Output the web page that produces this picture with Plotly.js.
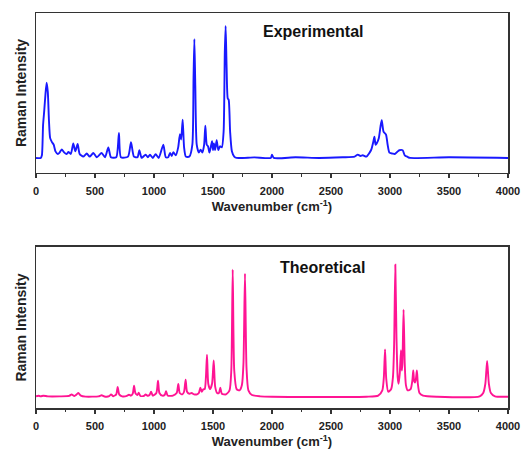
<!DOCTYPE html>
<html>
<head>
<meta charset="utf-8">
<script src="https://cdn.plot.ly/plotly-3.0.1.min.js"></script>
<style>html,body{margin:0;padding:0;background:#fff;}#chart{width:522px;height:449px;}</style>
</head>
<body>
<div id="chart"></div>
<script>
// Experimental Raman spectrum (wavenumber, intensity)
const expWavenumber = [0,40,50,60,70,80,90,100,110,120,135,150,165,185,200,218,240,260,275,295,316,333,353,370,400,430,455,486,515,556,585,613,635,680,703,720,780,805,830,860,876,895,929,948,966,990,1014,1040,1079,1100,1120,1136,1150,1164,1185,1205,1220,1230,1243,1255,1270,1300,1325,1335,1342,1350,1362,1380,1395,1410,1425,1435,1447,1458,1470,1485,1492,1500,1508,1518,1531,1545,1559,1575,1590,1600,1607,1615,1625,1633,1645,1660,1680,1700,1850,1990,2000,2015,2200,2400,2600,2700,2727,2750,2769,2800,2840,2858,2868,2878,2887,2905,2920,2930,2945,2966,2980,2995,3022,3040,3060,3079,3107,3125,3149,3170,3500,4000];
const expIntensity = [0,0,0.02,0.25,0.36,0.48,0.57,0.50,0.28,0.15,0.12,0.10,0.05,0.03,0.04,0.065,0.04,0.03,0.045,0.03,0.11,0.05,0.105,0.03,0.01,0.033,0.01,0.038,0.005,0.038,0.005,0.08,0.005,0.005,0.19,0.005,0.01,0.12,0.01,0.005,0.058,0,0.025,0.005,0.025,0,0.028,0,0.10,0.005,0.005,0.038,0.015,0.043,0.02,0.08,0.18,0.14,0.29,0.08,0.01,0.01,0.1,0.6,0.90,0.55,0.1,0.04,0.063,0.04,0.10,0.245,0.10,0.088,0.04,0.10,0.126,0.06,0.11,0.06,0.134,0.06,0.088,0.08,0.2,0.8,1.0,0.7,0.45,0.44,0.2,0.05,0.01,0,0.004,0,0.025,0,0.005,0,0.005,0.01,0.025,0.015,0.02,0.01,0.06,0.12,0.16,0.10,0.11,0.15,0.24,0.285,0.2,0.177,0.1,0.04,0.033,0.03,0.045,0.058,0.058,0.02,0.008,0,0.005,0];

// Theoretical Raman spectrum (wavenumber, intensity)
const theoWavenumber = [0,20,40,62,100,200,280,302,325,345,359,380,420,530,556,580,620,636,655,680,692,705,730,770,788,805,820,831,842,860,870,885,915,929,945,962,975,990,1020,1034,1046,1070,1090,1102,1115,1160,1192,1206,1218,1240,1255,1268,1280,1300,1319,1340,1365,1380,1393,1405,1418,1430,1440,1449,1460,1475,1492,1506,1518,1535,1550,1562,1575,1610,1640,1655,1667,1680,1700,1725,1745,1758,1771,1784,1800,1830,1900,2000,2800,2900,2935,2948,2958,2968,2985,3010,3025,3035,3045,3055,3065,3073,3083,3093,3100,3105,3115,3125,3135,3150,3175,3190,3197,3205,3212,3220,3228,3236,3250,3280,3400,3760,3790,3808,3823,3838,3855,3890,4000];
const theoIntensity = [0.005,0.01,0.005,0.01,0.005,0.005,0.008,0.02,0.008,0.02,0.03,0.01,0.003,0.005,0.013,0.004,0.006,0.02,0.006,0.02,0.076,0.02,0.005,0.008,0.018,0.01,0.025,0.086,0.03,0.015,0.033,0.008,0.008,0.02,0.01,0.015,0.04,0.01,0.03,0.123,0.03,0.01,0.015,0.043,0.012,0.01,0.03,0.098,0.03,0.02,0.04,0.131,0.04,0.025,0.03,0.02,0.02,0.03,0.07,0.04,0.058,0.06,0.15,0.32,0.1,0.06,0.1,0.277,0.08,0.03,0.03,0.07,0.025,0.02,0.05,0.2,0.962,0.2,0.06,0.05,0.09,0.25,0.932,0.22,0.05,0.015,0.005,0.002,0.002,0.01,0.05,0.15,0.36,0.14,0.04,0.06,0.15,0.4,1.0,0.45,0.15,0.1,0.18,0.353,0.2,0.25,0.66,0.25,0.09,0.05,0.06,0.13,0.2,0.12,0.11,0.14,0.2,0.1,0.03,0.01,0.002,0.005,0.03,0.1,0.272,0.1,0.03,0.005,0.002];

const tickValues = [0,500,1000,1500,2000,2500,3000,3500,4000];
const tickLabels = ["0","500","1000","1500","2000","2500","3000","3500","4000"];
const panelLabels = ["Experimental","Theoretical"];
const yTitle = "Raman Intensity";
const xTitle = "Wavenumber (cm<sup>-1</sup>)";

const fontFam = "Liberation Sans, Arial, sans-serif";

const traces = [
  {x: expWavenumber, y: expIntensity, type: 'scatter', mode: 'lines',
   line: {color: 'rgb(25,25,255)', width: 1.9, shape: 'spline', smoothing: 0.6},
   xaxis: 'x', yaxis: 'y', hoverinfo: 'skip'},
  {x: theoWavenumber, y: theoIntensity, type: 'scatter', mode: 'lines',
   line: {color: 'rgb(255,20,147)', width: 1.9, shape: 'spline', smoothing: 0.6},
   xaxis: 'x2', yaxis: 'y2', hoverinfo: 'skip'}
];

function xAxis(domainAnchor) {
  return {
    anchor: domainAnchor,
    range: [0, 4000],
    tickvals: tickValues, ticktext: tickLabels,
    ticks: 'outside', ticklen: 4, tickwidth: 1.2, tickcolor: '#333',
    ticklabelstandoff: 3,
    minor: {dtick: 250, tick0: 0, ticks: 'outside', ticklen: 2.5, tickwidth: 1, tickcolor: '#333'},
    showline: true, linecolor: '#333', linewidth: 1.5, mirror: true,
    showgrid: false, zeroline: false,
    tickfont: {family: fontFam, size: 11, color: '#222', weight: 'bold'},
    title: {text: '<b>' + xTitle + '</b>', font: {family: fontFam, size: 13, color: '#222'}, standoff: 6}
  };
}
function yAxis(anchor, domain, range) {
  return {
    anchor: anchor, domain: domain, range: range,
    showticklabels: false, ticks: '',
    showline: true, linecolor: '#333', linewidth: 1.5, mirror: true,
    showgrid: false, zeroline: false,
    title: {text: '<b>' + yTitle + '</b>', font: {family: fontFam, size: 14, color: '#222'}, standoff: 4}
  };
}

const layout = {
  width: 522, height: 449,
  margin: {l: 36, r: 14, t: 13, b: 41},
  paper_bgcolor: '#fff', plot_bgcolor: '#fff',
  showlegend: false,
  xaxis: xAxis('y'),
  yaxis: yAxis('x', [0.595, 1.0], [-0.114, 1.098]),
  xaxis2: xAxis('y2'),
  yaxis2: yAxis('x2', [0, 0.4076], [-0.083, 1.133]),
  annotations: [
    {text: '<b>' + panelLabels[0] + '</b>', xref: 'x', yref: 'y domain', x: 2347, y: 0.885,
     xanchor: 'center', yanchor: 'middle', showarrow: false,
     font: {family: fontFam, size: 16, color: '#111'}},
    {text: '<b>' + panelLabels[1] + '</b>', xref: 'x2', yref: 'y2 domain', x: 2424, y: 0.87,
     xanchor: 'center', yanchor: 'middle', showarrow: false,
     font: {family: fontFam, size: 16, color: '#111'}}
  ]
};

Plotly.newPlot('chart', traces, layout, {displayModeBar: false, staticPlot: true});
</script>
</body>
</html>
